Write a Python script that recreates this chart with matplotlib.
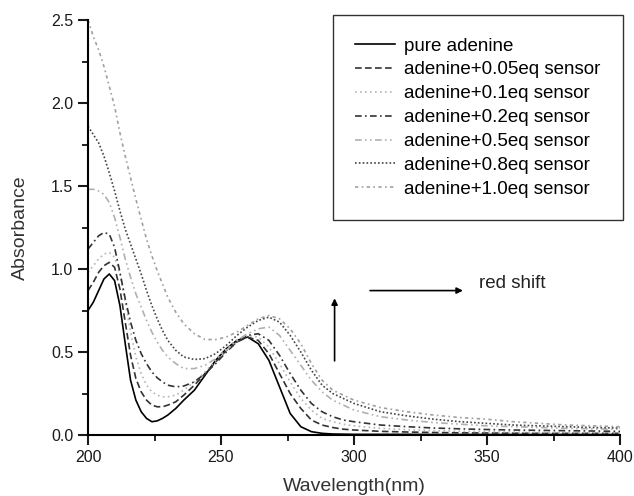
import matplotlib
matplotlib.use("Agg")
import matplotlib.pyplot as plt
from matplotlib.ticker import MultipleLocator

plt.rcParams['font.family'] = ['Liberation Sans', 'DejaVu Sans']

# wavelength grid (nm)
wl = [200, 202, 204, 206, 208, 210, 212, 214, 216, 218, 220, 222, 224, 226, 228, 230,
      233, 236, 240, 244, 248, 252, 256, 260, 264, 268, 272, 276, 280, 284, 288, 292,
      296, 300, 310, 320, 330, 340, 350, 360, 370, 380, 390, 400]

pure = [0.75, 0.80, 0.87, 0.94, 0.97, 0.93, 0.78, 0.55, 0.33, 0.21, 0.14, 0.10, 0.08, 0.085, 0.10, 0.12,
        0.16, 0.21, 0.27, 0.36, 0.45, 0.52, 0.57, 0.59, 0.55, 0.45, 0.29, 0.13, 0.05, 0.02, 0.01, 0.006,
        0.005, 0.004, 0.004, 0.004, 0.003, 0.003, 0.003, 0.003, 0.003, 0.003, 0.003, 0.003]
eq005 = [0.87, 0.92, 0.98, 1.02, 1.04, 1.01, 0.88, 0.68, 0.48, 0.34, 0.26, 0.21, 0.18, 0.17, 0.17, 0.18,
         0.20, 0.24, 0.30, 0.37, 0.44, 0.51, 0.56, 0.59, 0.57, 0.49, 0.37, 0.25, 0.16, 0.09, 0.06, 0.045,
         0.035, 0.03, 0.022, 0.018, 0.015, 0.013, 0.012, 0.011, 0.010, 0.010, 0.010, 0.010]
eq01 = [0.98, 1.02, 1.06, 1.09, 1.10, 1.07, 0.97, 0.80, 0.62, 0.47, 0.37, 0.30, 0.26, 0.24, 0.23, 0.23,
        0.24, 0.27, 0.32, 0.38, 0.45, 0.52, 0.57, 0.60, 0.59, 0.53, 0.43, 0.32, 0.22, 0.15, 0.10, 0.08,
        0.065, 0.055, 0.04, 0.032, 0.026, 0.022, 0.020, 0.018, 0.016, 0.015, 0.014, 0.013]
eq02 = [1.12, 1.16, 1.20, 1.22, 1.21, 1.13, 0.98, 0.82, 0.68, 0.57, 0.49, 0.43, 0.38, 0.345, 0.32, 0.30,
        0.29, 0.295, 0.32, 0.37, 0.43, 0.50, 0.56, 0.60, 0.61, 0.57, 0.48, 0.37, 0.27, 0.19, 0.14, 0.11,
        0.09, 0.08, 0.06, 0.05, 0.042, 0.037, 0.033, 0.030, 0.028, 0.026, 0.024, 0.022]
eq05 = [1.48, 1.48, 1.47, 1.45, 1.40, 1.31, 1.19, 1.06, 0.95, 0.85, 0.77, 0.69, 0.62, 0.56, 0.51, 0.47,
        0.43, 0.40, 0.40, 0.42, 0.46, 0.51, 0.57, 0.61, 0.64, 0.65, 0.60, 0.51, 0.42, 0.33, 0.26, 0.21,
        0.18, 0.15, 0.11, 0.09, 0.075, 0.065, 0.055, 0.050, 0.045, 0.040, 0.037, 0.035]
eq08 = [1.86, 1.81, 1.76, 1.68, 1.58, 1.47, 1.35, 1.24, 1.15, 1.06, 0.97, 0.87, 0.78, 0.70, 0.63, 0.57,
        0.51, 0.47, 0.455, 0.46, 0.49, 0.54, 0.60, 0.65, 0.69, 0.71, 0.68, 0.60, 0.50, 0.39, 0.30, 0.25,
        0.22, 0.19, 0.14, 0.115, 0.095, 0.08, 0.07, 0.06, 0.055, 0.05, 0.045, 0.042]
eq10 = [2.50, 2.40, 2.32, 2.22, 2.10, 1.98, 1.82, 1.68, 1.55, 1.42, 1.30, 1.18, 1.08, 0.99, 0.91, 0.83,
        0.74, 0.67, 0.61, 0.575, 0.575, 0.59, 0.62, 0.66, 0.70, 0.72, 0.70, 0.64, 0.55, 0.43, 0.33, 0.27,
        0.24, 0.21, 0.165, 0.14, 0.12, 0.105, 0.095, 0.08, 0.07, 0.06, 0.055, 0.05]

labels = ["pure adenine", "adenine+0.05eq sensor", "adenine+0.1eq sensor",
          "adenine+0.2eq sensor", "adenine+0.5eq sensor", "adenine+0.8eq sensor",
          "adenine+1.0eq sensor"]
series = [pure, eq005, eq01, eq02, eq05, eq08, eq10]
colors = ['black', '#333333', '#b5b5b5', '#333333', '#b0b0b0', '#444444', '#a0a0a0']
styles = ['-', (0, (4, 2)), (0, (1, 2)), (0, (4, 2, 1, 2)), (0, (4, 2, 1, 2, 1, 2)),
          (0, (1, 1.3)), (0, (2, 2, 1, 2))]

fig = plt.figure(figsize=(6.34, 4.96), dpi=100)
ax = fig.add_axes([88/634, 61/496, 532/634, 415/496])

for y, lab, c, ls in zip(series, labels, colors, styles):
    ax.plot(wl, y, color=c, linestyle=ls, lw=1.2, label=lab)

ax.set_xlim(200, 400)
ax.set_ylim(0, 2.5)
ax.xaxis.set_major_locator(MultipleLocator(50))
ax.xaxis.set_minor_locator(MultipleLocator(25))
ax.yaxis.set_major_locator(MultipleLocator(0.5))
ax.yaxis.set_minor_locator(MultipleLocator(0.25))
ax.yaxis.set_major_formatter(matplotlib.ticker.FormatStrFormatter('%.1f'))
ax.spines['top'].set_visible(False)
ax.spines['right'].set_visible(False)
for s in ['left', 'bottom']:
    ax.spines[s].set_linewidth(1.5)
ax.tick_params(which='major', direction='out', length=7, width=1.5, labelsize=11.5, colors='#1a1a1a')
ax.tick_params(which='minor', direction='out', length=4, width=1.2)

ax.set_xlabel("Wavelength(nm)", fontsize=14, color='#333333', labelpad=10)
ax.set_ylabel("Absorbance", fontsize=14, color='#333333', labelpad=16)

# arrows and annotation
ax.annotate("", xy=(292.7, 0.84), xytext=(292.7, 0.43),
            arrowprops=dict(arrowstyle='-|>', color='black', lw=1.2, mutation_scale=9))
ax.annotate("", xy=(342, 0.87), xytext=(305, 0.87),
            arrowprops=dict(arrowstyle='-|>', color='black', lw=1.2, mutation_scale=9))
ax.text(347, 0.915, "red shift", fontsize=13.5, color='#222222', va='center', ha='left')

leg = fig.legend(loc='upper left', bbox_to_anchor=(333/634, 1 - 15/496),
                 fontsize=13.5, frameon=True, fancybox=False, edgecolor='black',
                 handlelength=2.1, handletextpad=0.5, labelspacing=0.36, borderpad=1.2,
                 borderaxespad=0)
leg.get_frame().set_linewidth(1.0)

fig.savefig("out.png", dpi=100)
